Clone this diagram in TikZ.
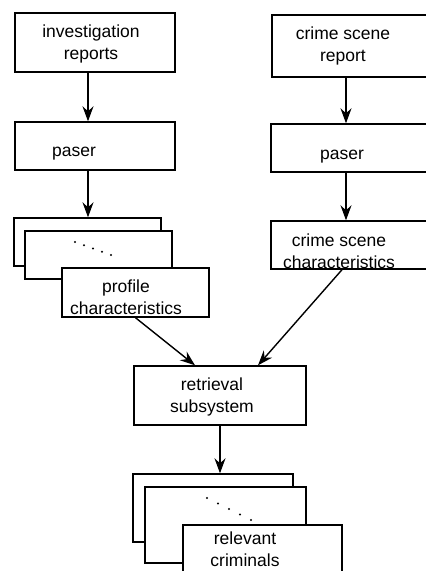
\documentclass[tikz,border=0pt]{standalone}
\usepackage{fontspec}
\setmainfont{Liberation Sans}
\usepackage{tikz}
\usetikzlibrary{shapes,arrows.meta}

\tikzset{
    box/.style={draw, fill=white, line width=1.4pt, inner sep=0pt},
    txt/.style={align=center, inner sep=0pt, font=\fontsize{17.5}{22}\selectfont},
    arr/.style={line width=1.4pt, -{Stealth[length=15pt,width=11pt,inset=5pt]}},
    dot/.style={fill=black}
}

\begin{document}
\begin{tikzpicture}[x=1pt,y=-1pt]
    \useasboundingbox (0,0) rectangle (426,571);
    \pgfmathsetmacro{\lx}{88}
    \pgfmathsetmacro{\rx}{346}
    \coordinate (lcol) at (\lx,0);
    \coordinate (rcol) at (\rx,0);

    % Draw the left column
    \node [box, minimum width=160, minimum height=59] (inv) at (95,42.5) {};
    \node [txt] (invt) at (91,44) {investigation\\reports};
    \node [box, minimum width=160, minimum height=48] (pl) at (95,146) {};
    \node [txt] (plt) at (74,154) {paser};

    % Draw the stack of profiles
    \node [box, minimum width=147, minimum height=48] (stA) at (87.5,242) {};
    \node [box, minimum width=147, minimum height=48] (stB) at (98.5,255) {};
    \foreach \t in {0,0.25,...,1}
        \fill [dot] ({75+36*\t},{242+13*\t}) circle (1.2pt);
    \node [box, minimum width=147, minimum height=49] (prof) at (135.5,292.5) {};
    \node [txt] (proft) at (126,297) {profile\\characteristics};

    % Draw the right column
    \node [box, minimum width=173, minimum height=62] (csr) at (358.5,46) {};
    \node [txt] (csrt) at (343,46) {crime scene\\report};
    \node [box, minimum width=174, minimum height=48] (pr) at (358,148) {};
    \node [txt] (prt) at (342,157) {paser};
    \node [box, minimum width=174, minimum height=48] (csc) at (358,245) {};
    \node [txt] (csct) at (339,251) {crime scene\\characteristics};

    % Draw the retrieval subsystem
    \node [box, minimum width=172, minimum height=59] (ret) at (220,395.5) {};
    \node [txt] (rett) at (212,397) {retrieval\\subsystem};

    % Draw the stack of criminals
    \node [box, minimum width=160, minimum height=68] (bA) at (213,508) {};
    \node [box, minimum width=161, minimum height=76] (bB) at (225.5,525) {};
    \foreach \t in {0,0.25,...,1}
        \fill [dot] ({207+44*\t},{498+22*\t}) circle (1.2pt);
    \node [box, minimum width=159, minimum height=55] (rel) at (262.5,552.5) {};
    \node [txt] (relt) at (245,549) {relevant\\criminals};

    % Draw the arrows
    \draw [arr] (inv.south -| lcol) -- (pl.north -| lcol);
    \draw [arr] (pl.south -| lcol) -- (stA.north -| lcol);
    \draw [arr] (csr.south -| rcol) -- (pr.north -| rcol);
    \draw [arr] (pr.south -| rcol) -- (csc.north -| rcol);
    \draw [arr] (prof.south) -- ([xshift=-25pt]ret.north);
    \draw [arr] ([xshift=-16pt]csc.south) -- ([xshift=38pt]ret.north);
    \draw [arr] (ret.south) -- (ret.south |- bA.north);

\end{tikzpicture}
\end{document}
